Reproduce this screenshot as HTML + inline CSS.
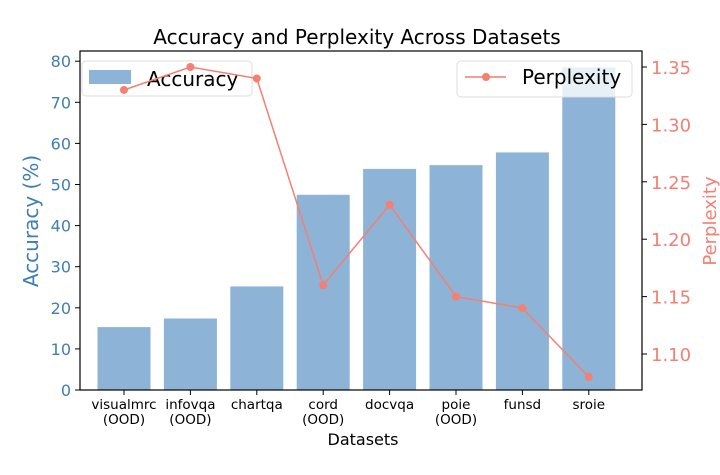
<!DOCTYPE html>
<html><head><meta charset="utf-8"><style>
body{margin:0;background:#fff}
svg{font-family:"DejaVu Sans","Liberation Sans",sans-serif;display:block}
</style></head><body>
<svg width="720" height="475" viewBox="0 0 720 475">
<g id="gb"></g>
<g>
<rect x="82" y="61" width="170" height="35" rx="4" fill="#fff" fill-opacity="0.8" stroke="#ddd"/>
<rect x="89" y="70" width="42" height="14" fill="#8db3d6"/>
<text x="147" y="86" font-size="20">Accuracy</text>
</g>
<g id="g"></g>
<text x="357" y="44" text-anchor="middle" font-size="20">Accuracy and Perplexity Across Datasets</text>
<text x="363" y="445" text-anchor="middle" font-size="16">Datasets</text>
<text transform="translate(38,221) rotate(-90)" text-anchor="middle" font-size="20" fill="#3f7eb3">Accuracy (%)</text>
<text transform="translate(716,221) rotate(-90)" text-anchor="middle" font-size="18" fill="#f47f72">Perplexity</text>
<g>
<rect x="457" y="61" width="175" height="36" rx="4" fill="#fff" fill-opacity="0.8" stroke="#ddd"/>
<line x1="465" y1="77" x2="506" y2="77" stroke="#f47f72" stroke-width="1.5"/>
<circle cx="486" cy="77" r="4" fill="#f47f72"/>
<text x="522" y="84" font-size="20">Perplexity</text>
</g>
</svg>
<script>
const categories=["visualmrc\n(OOD)","infovqa\n(OOD)","chartqa","cord\n(OOD)","docvqa","poie\n(OOD)","funsd","sroie"];
const accuracy=[15.3,17.4,25.2,47.5,53.8,54.7,57.8,78.5];
const perplexity=[1.33,1.35,1.34,1.16,1.23,1.15,1.14,1.08];
const leftTicks=[0,10,20,30,40,50,60,70,80];
const rightTicks=[1.10,1.15,1.20,1.25,1.30,1.35];
const NS="http://www.w3.org/2000/svg";
const gb=document.getElementById('gb');
const g=document.getElementById('g');
const L=80,R=642,T=51,B=390;
const xC=i=>124+i*66.4;
const yL=v=>390-v*4.11;
const yR=v=>67+(1.35-v)/0.05*57.4;
function mk(t,a,txt,p){const e=document.createElementNS(NS,t);for(const k in a)e.setAttribute(k,a[k]);if(txt!==undefined)e.textContent=txt;(p||g).appendChild(e);return e;}
accuracy.forEach((v,i)=>{const r=mk('rect',{x:xC(i)-26.5,y:yL(v),width:53,height:B-yL(v),fill:'#8db3d6'},undefined,gb);

});
const pl=mk('polyline',{points:perplexity.map((v,i)=>xC(i)+','+yR(v)).join(' '),fill:'none',stroke:'#f47f72','stroke-width':1.5});


perplexity.forEach((v,i)=>{const c=mk('circle',{cx:xC(i),cy:yR(v),r:4,fill:'#f47f72'});

});
const ax=mk('rect',{x:L,y:T,width:R-L,height:B-T,fill:'none',stroke:'#000','stroke-width':1.2});


leftTicks.forEach(v=>{const y=yL(v);mk('line',{x1:L-5,x2:L,y1:y,y2:y,stroke:'#000'});
const t=mk('text',{x:L-9,y:y+6,'text-anchor':'end','font-size':16,fill:'#3f7eb3'},v);

});
rightTicks.forEach(v=>{const y=yR(v);mk('line',{x1:R,x2:R+5,y1:y,y2:y,stroke:'#000'});
const t=mk('text',{x:R+9,y:y+7,'font-size':18,fill:'#f47f72'},v.toFixed(2));

});
categories.forEach((c,i)=>{mk('line',{x1:xC(i),x2:xC(i),y1:B,y2:B+5,stroke:'#000'});
c.split('\n').forEach((s,j)=>{const t=mk('text',{x:xC(i),y:B+19+j*15,'text-anchor':'middle','font-size':13.5,fill:'#000'},s);

});});
</script>
</body></html>
